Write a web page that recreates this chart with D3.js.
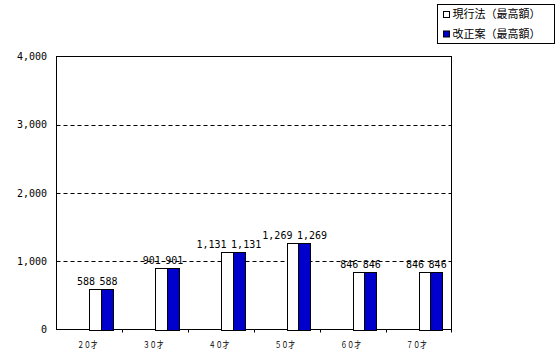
<!DOCTYPE html>
<html>
<head>
<meta charset="utf-8">
<style type="text/css">
    body { margin: 0; background: #fff; }
    .num { font-family: "DejaVu Sans Mono", monospace; font-size: 10px; fill: #000; }
    .cat { font-family: "Noto Sans CJK JP", sans-serif; font-size: 9px; fill: #000; }
    .leg { font-family: "Noto Sans CJK JP", sans-serif; font-size: 11px; fill: #000; }
</style>
</head>
<body>
<script src="https://d3js.org/d3.v7.min.js"></script>
<script type="text/javascript">

    var categories = ["２０才", "３０才", "４０才", "５０才", "６０才", "７０才"];
    var seriesNames = ["現行法（最高額）", "改正案（最高額）"];
    var currentLaw = [588, 901, 1131, 1269, 846, 846];
    var reformPlan = [588, 901, 1131, 1269, 846, 846];
    var yTicks = [0, 1000, 2000, 3000, 4000];
    var colors = ["#ffffff", "#0000cc"];

    var width = 556, height = 357;
    var plot = { left: 56.5, right: 451.5, top: 56.5, bottom: 329.5 };

    var svg = d3.select("body").append("svg")
        .attr("width", width)
        .attr("height", height);

    var x = d3.scaleBand()
        .domain(categories)
        .range([plot.left, plot.right])
        .padding(0);

    var y = d3.scaleLinear()
        .domain([0, 4000])
        .range([plot.bottom, plot.top]);

    var fmt = d3.format(",");
    var barW = x.bandwidth() * 0.175;

    // gridlines
    svg.append("g")
        .selectAll("line")
        .data(yTicks.filter(function (d) { return d > 0 && d < 4000; }))
        .enter().append("line")
        .attr("x1", plot.left).attr("x2", plot.right)
        .attr("y1", function (d) { return Math.round(y(d)) + 0.5; })
        .attr("y2", function (d) { return Math.round(y(d)) + 0.5; })
        .style("stroke", "#000")
        .style("stroke-dasharray", "4,3");

    // plot frame
    svg.append("rect")
        .attr("x", plot.left).attr("y", plot.top)
        .attr("width", plot.right - plot.left)
        .attr("height", plot.bottom - plot.top)
        .style("fill", "none")
        .style("stroke", "#000");

    // y labels
    svg.append("g")
        .selectAll("text")
        .data(yTicks)
        .enter().append("text")
        .attr("class", "num")
        .attr("x", 47)
        .attr("y", function (d) { return y(d); })
        .attr("dy", "0.35em")
        .attr("text-anchor", "end")
        .text(function (d) { return fmt(d); });

    // x ticks at category boundaries
    var bounds = categories.map(function (c) { return x(c) + x.bandwidth(); });
    svg.append("g")
        .selectAll("line")
        .data(bounds)
        .enter().append("line")
        .attr("x1", function (d) { return Math.round(d) + 0.5; })
        .attr("x2", function (d) { return Math.round(d) + 0.5; })
        .attr("y1", plot.bottom).attr("y2", plot.bottom + 3)
        .style("stroke", "#000");

    // x labels
    svg.append("g")
        .selectAll("text")
        .data(categories)
        .enter().append("text")
        .attr("class", "cat")
        .attr("transform", function (d) {
            return "translate(" + (x(d) + x.bandwidth() / 2 - 2) + ",348) scale(0.76,1)";
        })
        .attr("text-anchor", "middle")
        .text(function (d) { return d; });

    // bars
    var series = [currentLaw, reformPlan];
    series.forEach(function (vals, s) {
        var g = svg.append("g");
        g.selectAll("rect")
            .data(vals)
            .enter().append("rect")
            .attr("x", function (d, i) {
                return Math.round(x(categories[i]) + x.bandwidth() / 2 + s * barW) + 0.5;
            })
            .attr("y", function (d) { return Math.round(y(d)) + 0.5; })
            .attr("width", Math.round(barW))
            .attr("height", function (d) { return Math.round(y(0)) - Math.round(y(d)); })
            .style("fill", colors[s])
            .style("stroke", "#000");

        g.selectAll("text")
            .data(vals)
            .enter().append("text")
            .attr("class", "num")
            .attr("x", function (d, i) {
                var mid = x(categories[i]) + x.bandwidth() / 2 + barW;
                return s === 0 ? mid - 6 : mid - 1.5;
            })
            .attr("y", function (d) { return y(d) - 4; })
            .attr("text-anchor", s === 0 ? "end" : "start")
            .text(function (d) { return fmt(d); });
    });

    // legend
    var legend = svg.append("g").attr("transform", "translate(437.5,4.5)");
    legend.append("rect")
        .attr("width", 117).attr("height", 39)
        .style("fill", "#fff")
        .style("stroke", "#000");
    seriesNames.forEach(function (name, s) {
        var cy = 10 + s * 19.5;
        legend.append("rect")
            .attr("x", 6).attr("y", cy - 3)
            .attr("width", 6).attr("height", 6)
            .style("fill", colors[s])
            .style("stroke", "#000");
        legend.append("text")
            .attr("class", "leg")
            .attr("x", 15).attr("y", cy)
            .attr("dy", "0.36em")
            .text(name);
    });

</script>
</body>
</html>
